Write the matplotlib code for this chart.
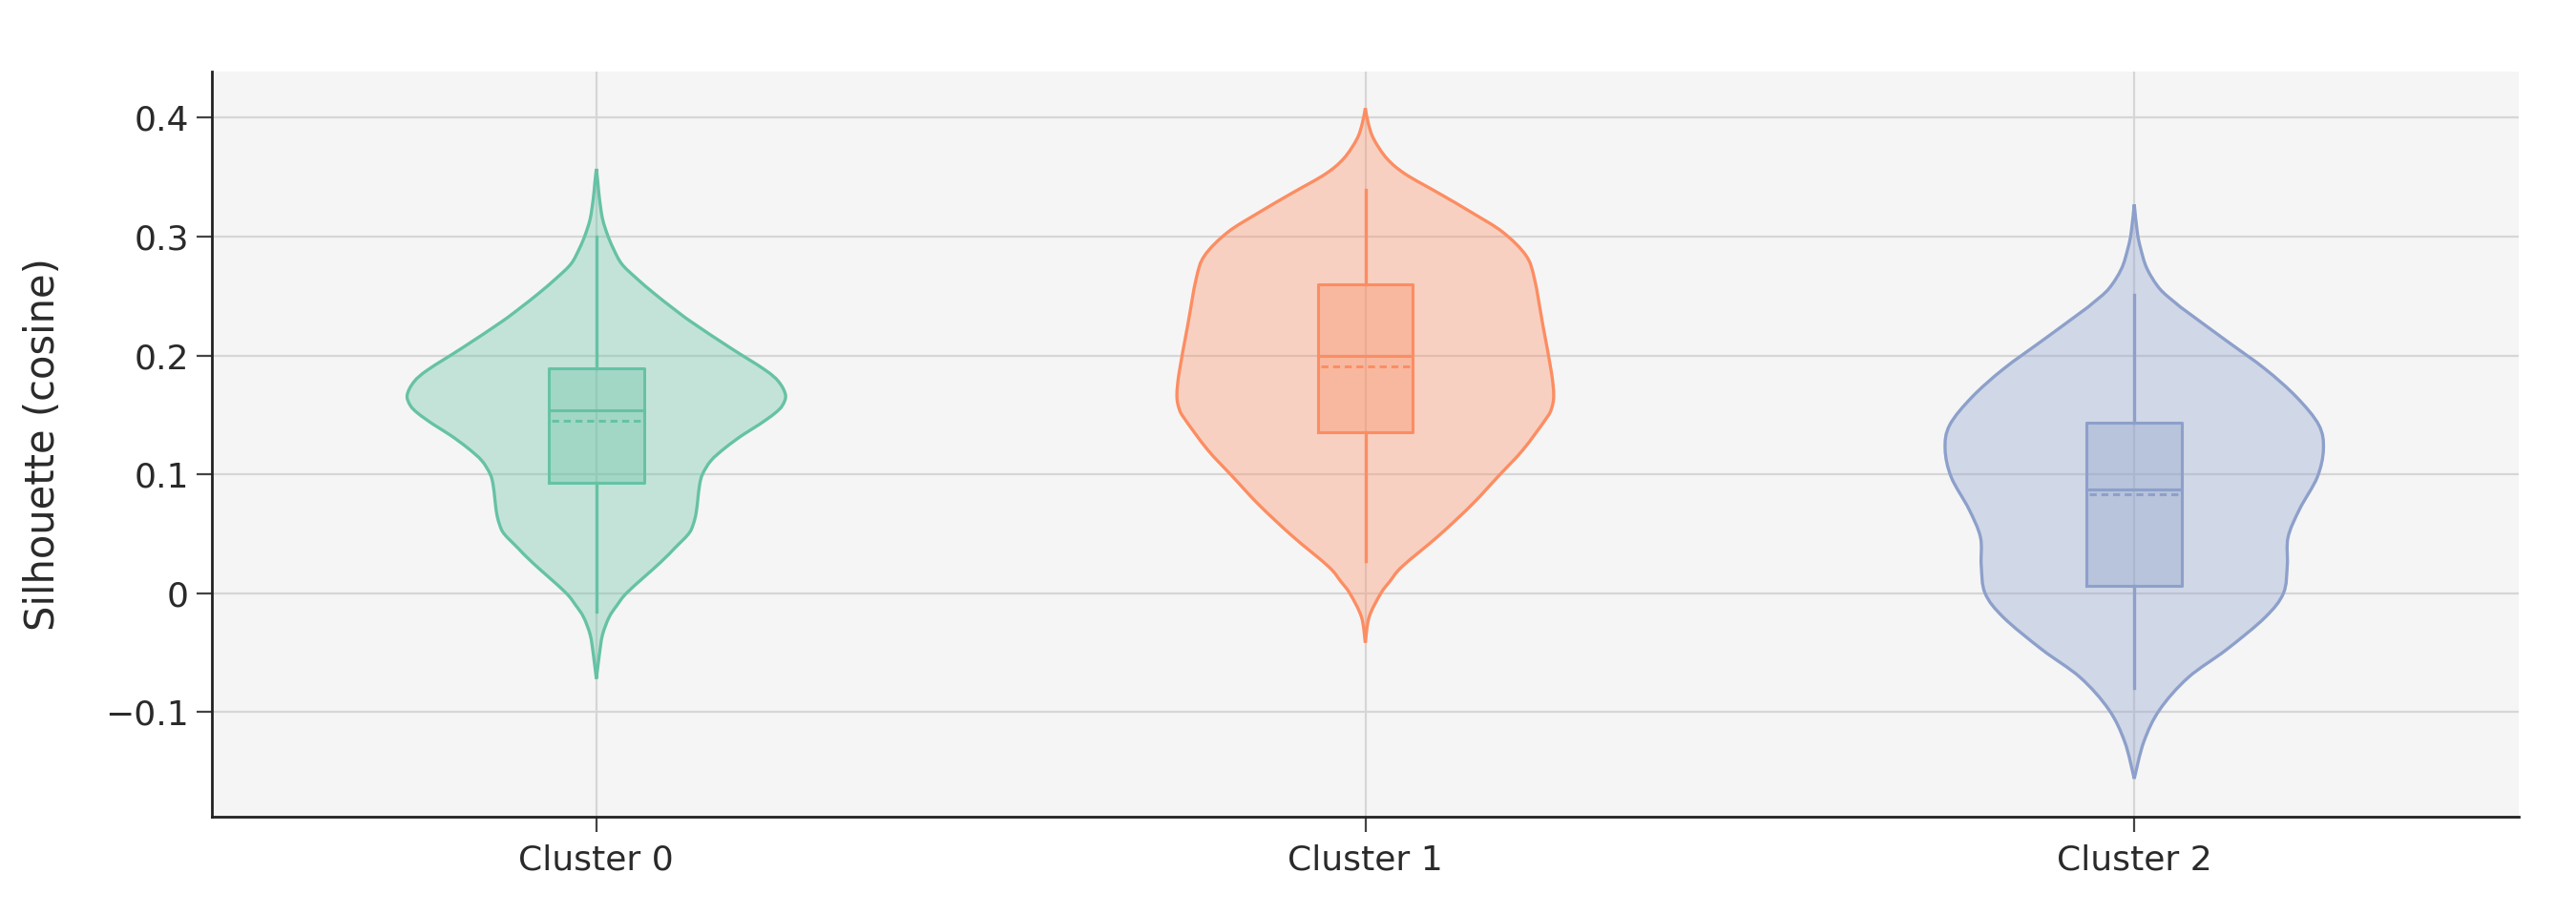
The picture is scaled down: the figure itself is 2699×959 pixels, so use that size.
import matplotlib
matplotlib.use("Agg")
import matplotlib.pyplot as plt
from matplotlib.path import Path
from matplotlib.patches import PathPatch

# categories and colours
clusters = ["Cluster 0", "Cluster 1", "Cluster 2"]
colors = ["#66c2a5", "#fc8d62", "#8da0cb"]

# violin outlines: silhouette value and half-width (category units)
c0_y = [0.357, 0.345, 0.332, 0.315, 0.3015, 0.290, 0.277, 0.265, 0.2525, 0.240, 0.228,
        0.2065, 0.188, 0.178, 0.1667, 0.158, 0.1513, 0.142, 0.133, 0.122, 0.1115, 0.100,
        0.090, 0.0686, 0.058, 0.050, 0.038, 0.0257, 0.0012, -0.010, -0.0203, -0.035,
        -0.051, -0.072]
c0_w = [0.0, 0.002, 0.004, 0.008, 0.0145, 0.022, 0.033, 0.052, 0.0745, 0.099, 0.124,
        0.174, 0.219, 0.237, 0.246, 0.242, 0.232, 0.212, 0.19, 0.167, 0.149, 0.138,
        0.134, 0.130, 0.126, 0.12, 0.102, 0.083, 0.041, 0.027, 0.0165, 0.008,
        0.004, 0.0]

c1_y = [0.408, 0.395, 0.382, 0.3657, 0.3526, 0.3363, 0.32, 0.3036, 0.284, 0.2644,
        0.2252, 0.186, 0.1663, 0.155, 0.1467, 0.1206, 0.0977, 0.0748, 0.0487, 0.0225,
        0.010, -0.0003, -0.02, -0.0415]
c1_w = [0.0, 0.004, 0.011, 0.028, 0.052, 0.096, 0.139, 0.179, 0.209, 0.22,
        0.231, 0.242, 0.245, 0.242, 0.235, 0.205, 0.172, 0.139, 0.096, 0.048,
        0.032, 0.02, 0.005, 0.0]

c2_y = [0.327, 0.3034, 0.29, 0.273, 0.2562, 0.244, 0.236, 0.2123, 0.1887, 0.165, 0.1415,
        0.1213, 0.0976, 0.0707, 0.047, 0.0234, 0.0, -0.0204, -0.0474, -0.071, -0.098,
        -0.125, -0.156]
c2_w = [0.0, 0.004, 0.0083, 0.0166, 0.033, 0.054, 0.070, 0.12, 0.17, 0.211, 0.24,
        0.246, 0.238, 0.215, 0.2, 0.199, 0.194, 0.17, 0.12, 0.07, 0.033,
        0.0124, 0.0]

# box statistics
q1 = [0.093, 0.1356, 0.0066]
median = [0.1535, 0.200, 0.0875]
q3 = [0.189, 0.2595, 0.1432]
mean = [0.1452, 0.1905, 0.0831]
lower_fence = [-0.0157, 0.0271, -0.0794]
upper_fence = [0.300, 0.3395, 0.251]

yticks = [-0.1, 0, 0.1, 0.2, 0.3, 0.4]
ytick_labels = ["\u22120.1", "0", "0.1", "0.2", "0.3", "0.4"]

profiles = [(c0_y, c0_w), (c1_y, c1_w), (c2_y, c2_w)]


def curve_segments(pts):
    # smooth curve through the points as cubic bezier pieces (catmull-rom tangents)
    verts, codes = [], []
    n = len(pts)
    for k in range(n - 1):
        p0 = pts[max(k - 1, 0)]
        p1 = pts[k]
        p2 = pts[k + 1]
        p3 = pts[min(k + 2, n - 1)]
        c1 = (p1[0] + (p2[0] - p0[0]) / 6, p1[1] + (p2[1] - p0[1]) / 6)
        c2 = (p2[0] - (p3[0] - p1[0]) / 6, p2[1] - (p3[1] - p1[1]) / 6)
        verts += [c1, c2, p2]
        codes += [Path.CURVE4] * 3
    return verts, codes


fig = plt.figure(figsize=(26.99, 9.59), dpi=100)
ax = fig.add_axes([222 / 2699, 1 - 856 / 959, (2639 - 222) / 2699, (856 - 75) / 959])
ax.set_facecolor("#f5f5f5")

box_half = 0.062
for i, (vy, vw) in enumerate(profiles):
    c = colors[i]
    left = [(i - w, y) for w, y in zip(vw, vy)]
    right = [(i + w, y) for w, y in zip(vw, vy)][::-1]
    lv, lc = curve_segments(left)
    rv, rc = curve_segments(right)
    verts = [left[0]] + lv + rv
    codes = [Path.MOVETO] + lc + rc
    outline = Path(verts, codes)
    ax.add_patch(PathPatch(outline, facecolor=c, alpha=0.35, lw=0, zorder=2))
    ax.add_patch(PathPatch(outline, facecolor="none", edgecolor=c, lw=2.4, zorder=3))
    # whiskers
    ax.plot([i, i], [lower_fence[i], q1[i]], color=c, lw=2.4, zorder=3)
    ax.plot([i, i], [q3[i], upper_fence[i]], color=c, lw=2.4, zorder=3)
    # box
    ax.fill_between([i - box_half, i + box_half], q1[i], q3[i], color=c, alpha=0.35, lw=0, zorder=3)
    ax.plot([i - box_half, i + box_half, i + box_half, i - box_half, i - box_half],
            [q1[i], q1[i], q3[i], q3[i], q1[i]], color=c, lw=2.2, zorder=4)
    ax.plot([i - box_half, i + box_half], [median[i], median[i]], color=c, lw=2.2, zorder=4)
    ax.plot([i - box_half + 0.004, i + box_half - 0.004], [mean[i], mean[i]], color=c,
            lw=2.2, ls=(0, (2.4, 1.6)), zorder=4)

ax.set_xlim(-0.5, 2.5)
ax.set_ylim(-0.188, 0.4388)
ax.set_xticks(range(len(clusters)))
ax.set_xticklabels(clusters)
ax.set_yticks(yticks)
ax.set_yticklabels(ytick_labels)

ax.grid(True, color="#d6d6d6", lw=1.6, zorder=0)
ax.set_axisbelow(True)
for s in ["top", "right"]:
    ax.spines[s].set_visible(False)
for s in ["left", "bottom"]:
    ax.spines[s].set_color("#222222")
    ax.spines[s].set_linewidth(2.0)

ax.tick_params(axis="both", direction="out", length=11.5, width=1.6, color="#444444",
               labelsize=26, labelcolor="#2a2a2a", pad=6)
ax.tick_params(axis="x", pad=9)
ax.set_ylabel("Silhouette (cosine)", fontsize=30, color="#2a2a2a", labelpad=32)

fig.savefig("out.png", dpi=100, facecolor="white")
